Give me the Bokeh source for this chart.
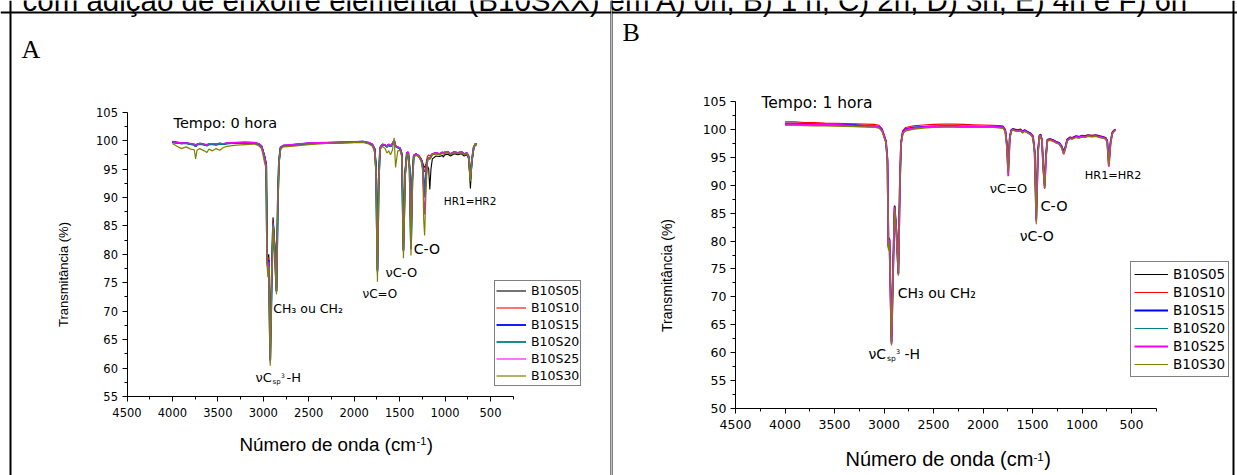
import math
from bokeh.plotting import figure
from bokeh.models import (Range1d, LinearAxis, FixedTicker, Label, Span,
                          Legend, LegendItem)
from bokeh.layouts import row
from bokeh.embed import file_html
from bokeh.resources import INLINE

# ---------------- data ----------------
NAMES = ["B10S05", "B10S10", "B10S15", "B10S20", "B10S25", "B10S30"]
COLORS = ["#000000", "#ff0000", "#0000ff", "#008080", "#ff00ff", "#808000"]

X_TICKS = [4500, 4000, 3500, 3000, 2500, 2000, 1500, 1000, 500]
X_MINOR = [4250, 3750, 3250, 2750, 2250, 1750, 1250, 750, 250]
Y_TICKS_A = [55, 60, 65, 70, 75, 80, 85, 90, 95, 100, 105]
Y_MINOR_A = [57.5, 62.5, 67.5, 72.5, 77.5, 82.5, 87.5, 92.5, 97.5, 102.5]
Y_TICKS_B = [50, 55, 60, 65, 70, 75, 80, 85, 90, 95, 100, 105]
Y_MINOR_B = [52.5, 57.5, 62.5, 67.5, 72.5, 77.5, 82.5, 87.5, 92.5, 97.5, 102.5]

# Panel A: Tempo 0 hora
WN_A = [4000, 3950, 3900, 3850, 3800, 3760, 3745, 3730, 3700, 3650,
        3620, 3600, 3560, 3520, 3480, 3440, 3400, 3300, 3200, 3100,
        3050, 3020, 3005, 2985, 2968, 2958, 2950, 2940, 2924, 2908,
        2893, 2875, 2855, 2840, 2828, 2810, 2780, 2700, 2500, 2300,
        2100, 1900, 1840, 1800, 1775, 1760, 1744, 1730, 1715, 1690,
        1660, 1640, 1620, 1600, 1580, 1560, 1545, 1520, 1495, 1475,
        1458, 1440, 1420, 1405, 1390, 1375, 1360, 1345, 1320, 1290,
        1260, 1245, 1235, 1225, 1212, 1195, 1180, 1168, 1155, 1140,
        1100, 1060, 1030, 1018, 1005, 970, 940, 900, 860, 820,
        790, 760, 740, 721, 705, 685, 666, 650]

A_B10S05 = [99.7, 99.6, 99.5, 99.6, 99.4, 99.3, 99.1, 99.3, 99.5, 99.3,
            99.2, 99.4, 99.4, 99.3, 99.5, 99.4, 99.5, 99.6, 99.6, 99.6,
            99.4, 99.1, 98.4, 97.3, 96.0, 80.5, 79.0, 80.0, 62.5, 76.0,
            86.5, 82.0, 74.0, 90.0, 96.5, 98.8, 99.1, 99.2, 99.5, 99.6,
            99.7, 99.8, 99.6, 99.3, 98.7, 96.0, 80.0, 94.0, 98.8, 99.3,
            99.3, 99.0, 99.4, 99.1, 99.4, 99.9, 99.1, 98.9, 98.7, 97.8,
            82.0, 94.5, 97.9, 98.0, 95.5, 82.0, 93.5, 97.4, 97.7, 97.2,
            96.6, 96.0, 95.5, 95.3, 95.8, 95.6, 95.0, 91.4, 95.0, 96.8,
            97.3, 97.2, 97.4, 97.1, 97.5, 97.6, 97.3, 97.7, 97.5, 97.7,
            97.3, 97.5, 96.8, 91.6, 96.2, 98.6, 99.4, 99.3]
A_B10S10 = [99.7, 99.6, 99.5, 99.5, 99.4, 99.3, 99.1, 99.3, 99.4, 99.3,
            99.2, 99.4, 99.4, 99.3, 99.4, 99.4, 99.5, 99.6, 99.6, 99.6,
            99.4, 99.0, 98.3, 97.1, 95.8, 79.5, 78.5, 79.5, 62.0, 75.5,
            85.8, 81.5, 73.8, 90.0, 96.5, 98.8, 99.1, 99.2, 99.5, 99.6,
            99.7, 99.8, 99.6, 99.3, 98.6, 95.5, 78.8, 93.5, 98.8, 99.3,
            99.2, 99.0, 99.3, 99.0, 99.4, 99.9, 99.0, 98.8, 98.6, 97.6,
            81.0, 94.2, 97.9, 97.9, 95.2, 81.5, 93.3, 97.4, 97.7, 97.4,
            96.8, 96.0, 94.8, 94.5, 95.8, 97.2, 97.5, 97.3, 97.5, 97.7,
            97.9, 97.7, 97.9, 97.8, 97.9, 98.0, 97.6, 98.0, 97.8, 98.0,
            97.6, 97.8, 97.2, 93.5, 96.5, 98.8, 99.5, 99.3]
A_B10S15 = [99.8, 99.7, 99.5, 99.6, 99.4, 99.3, 99.0, 99.3, 99.5, 99.3,
            99.2, 99.4, 99.4, 99.3, 99.5, 99.4, 99.5, 99.6, 99.7, 99.6,
            99.4, 99.0, 98.2, 97.0, 95.6, 79.0, 78.0, 79.0, 61.5, 75.0,
            85.5, 81.0, 73.5, 89.5, 96.3, 98.8, 99.1, 99.2, 99.5, 99.6,
            99.7, 99.8, 99.6, 99.3, 98.5, 95.0, 77.3, 93.0, 98.7, 99.3,
            99.2, 98.9, 99.3, 99.0, 99.4, 100.0, 99.0, 98.8, 98.6, 97.5,
            80.8, 94.0, 97.8, 97.9, 95.0, 81.2, 93.0, 97.3, 97.6, 97.3,
            96.5, 95.5, 92.5, 90.5, 93.5, 96.6, 97.0, 96.8, 97.2, 97.6,
            97.8, 97.6, 97.9, 97.8, 97.9, 98.0, 97.6, 98.0, 97.8, 98.0,
            97.6, 97.8, 97.2, 93.5, 96.5, 98.8, 99.4, 99.3]
A_B10S20 = [99.7, 99.6, 99.5, 99.5, 99.4, 99.3, 99.0, 99.3, 99.4, 99.3,
            99.1, 99.3, 99.4, 99.3, 99.4, 99.4, 99.5, 99.6, 99.6, 99.6,
            99.4, 99.0, 98.2, 97.0, 95.6, 78.8, 77.8, 78.8, 61.3, 75.0,
            85.5, 81.0, 73.5, 89.5, 96.3, 98.8, 99.1, 99.2, 99.5, 99.6,
            99.7, 99.8, 99.6, 99.3, 98.5, 95.0, 77.0, 93.0, 98.7, 99.3,
            99.2, 98.9, 99.3, 99.0, 99.4, 100.0, 99.0, 98.8, 98.6, 97.5,
            80.6, 94.0, 97.8, 97.9, 95.0, 81.0, 93.0, 97.3, 97.6, 97.3,
            96.5, 95.3, 92.0, 90.0, 93.3, 96.6, 97.0, 96.8, 97.2, 97.6,
            97.8, 97.6, 97.9, 97.8, 97.9, 98.0, 97.6, 98.0, 97.8, 98.0,
            97.6, 97.8, 97.2, 93.3, 96.5, 98.8, 99.4, 99.3]
A_B10S25 = [99.8, 99.7, 99.6, 99.6, 99.5, 99.4, 99.2, 99.4, 99.5, 99.4,
            99.3, 99.5, 99.5, 99.4, 99.5, 99.5, 99.6, 99.7, 99.7, 99.7,
            99.5, 99.1, 98.3, 97.0, 95.5, 78.5, 77.5, 78.5, 61.0, 74.8,
            85.2, 80.8, 73.3, 89.3, 96.2, 98.8, 99.2, 99.3, 99.6, 99.7,
            99.8, 99.9, 99.7, 99.4, 98.5, 94.8, 76.4, 92.8, 98.7, 99.4,
            99.3, 99.0, 99.4, 99.1, 99.5, 100.1, 99.1, 98.9, 98.7, 97.5,
            80.4, 94.0, 97.9, 98.0, 95.0, 80.8, 93.0, 97.4, 97.7, 97.4,
            96.5, 95.0, 90.0, 87.0, 92.0, 96.5, 97.1, 96.9, 97.3, 97.7,
            97.9, 97.7, 98.0, 97.9, 98.0, 98.1, 97.7, 98.1, 97.9, 98.1,
            97.7, 97.9, 97.3, 93.2, 96.6, 98.9, 99.5, 99.4]
A_B10S30 = [99.5, 99.0, 98.6, 98.9, 98.5, 98.4, 96.8, 98.3, 98.6, 98.2,
            97.9, 98.5, 98.2, 98.6, 98.3, 98.8, 99.0, 99.2, 99.3, 99.4,
            99.1, 98.6, 97.6, 96.0, 95.0, 78.0, 76.0, 78.0, 60.4, 74.5,
            85.0, 80.5, 73.0, 89.0, 96.0, 98.5, 98.9, 99.0, 99.3, 99.5,
            99.6, 99.7, 99.4, 99.0, 98.0, 94.5, 75.2, 92.5, 98.4, 99.0,
            98.6, 97.8, 98.2, 97.5, 98.3, 100.5, 95.3, 98.2, 98.3, 97.0,
            79.3, 93.5, 97.5, 97.6, 94.5, 79.8, 92.5, 97.0, 97.4, 97.2,
            96.3, 94.5, 86.0, 83.3, 90.0, 96.3, 97.0, 96.8, 97.2, 97.5,
            97.7, 97.5, 97.8, 97.6, 97.8, 97.9, 97.5, 97.9, 97.7, 97.9,
            97.5, 97.7, 97.0, 92.8, 96.3, 98.6, 99.4, 99.2]

# Panel B: Tempo 1 hora
WN_B = [4000, 3900, 3800, 3700, 3600, 3500, 3400, 3300, 3200, 3100,
        3050, 3020, 3000, 2980, 2965, 2955, 2945, 2924, 2908, 2893,
        2875, 2855, 2840, 2828, 2810, 2780, 2700, 2600, 2500, 2400,
        2300, 2200, 2100, 2000, 1900, 1800, 1775, 1760, 1745, 1730,
        1715, 1700, 1680, 1650, 1620, 1600, 1580, 1550, 1520, 1495,
        1478, 1462, 1445, 1430, 1418, 1405, 1390, 1377, 1365, 1350,
        1320, 1290, 1260, 1230, 1205, 1185, 1170, 1150, 1120, 1100,
        1060, 1030, 1000, 970, 940, 900, 860, 820, 790, 760,
        745, 729, 712, 695, 680, 660]

B_B10S05 = [100.8, 100.8, 100.8, 100.75, 100.7, 100.7, 100.6, 100.55, 100.5, 100.45,
            100.3, 99.8, 98.8, 97.8, 94.5, 79.0, 80.5, 62.0, 75.0, 86.3,
            82.0, 74.3, 90.0, 97.5, 99.4, 99.9, 100.2, 100.35, 100.45, 100.5,
            100.5, 100.45, 100.4, 100.4, 100.4, 100.3, 99.8, 97.5, 92.5, 98.5,
            99.7, 99.9, 99.8, 99.7, 99.8, 99.4, 99.7, 99.4, 99.1, 98.6,
            96.0, 84.0, 96.0, 98.7, 98.9, 98.0, 93.0, 89.8, 95.0, 98.0,
            98.1, 97.9, 97.6, 97.4, 96.8, 95.9, 96.5, 98.0, 98.4, 98.3,
            98.6, 98.5, 98.7, 98.6, 98.8, 98.7, 98.8, 98.6, 98.5, 98.3,
            97.8, 93.8, 97.5, 99.2, 99.6, 99.9]
B_B10S10 = [101.3, 101.3, 101.2, 101.2, 101.1, 101.05, 101.0, 100.95, 100.9, 100.85,
            100.7, 100.1, 99.0, 97.9, 94.6, 79.2, 80.6, 62.2, 75.2, 86.4,
            82.1, 74.4, 90.3, 97.8, 99.8, 100.3, 100.6, 100.75, 100.85, 100.9,
            100.9, 100.85, 100.8, 100.75, 100.7, 100.6, 100.0, 97.6, 92.6, 98.7,
            99.9, 100.1, 100.0, 99.9, 100.0, 99.6, 99.9, 99.6, 99.3, 98.8,
            96.2, 84.3, 96.2, 98.9, 99.1, 98.2, 93.2, 90.0, 95.2, 98.2,
            98.3, 98.1, 97.8, 97.6, 97.0, 96.1, 96.7, 98.2, 98.6, 98.5,
            98.8, 98.7, 98.9, 98.8, 99.0, 98.9, 99.0, 98.8, 98.7, 98.5,
            98.0, 94.0, 97.7, 99.4, 99.8, 100.0]
B_B10S15 = [101.0, 101.0, 100.95, 100.9, 100.85, 100.8, 100.75, 100.7, 100.6, 100.55,
            100.4, 99.9, 98.9, 97.8, 94.5, 79.0, 80.4, 61.9, 74.9, 86.2,
            81.9, 74.2, 90.0, 97.5, 99.5, 100.0, 100.3, 100.4, 100.5, 100.55,
            100.55, 100.5, 100.5, 100.45, 100.45, 100.35, 99.8, 97.5, 92.4, 98.5,
            99.8, 100.0, 99.9, 99.8, 99.9, 99.5, 99.8, 99.5, 99.2, 98.7,
            96.0, 84.0, 96.0, 98.8, 99.0, 98.1, 93.0, 89.8, 95.0, 98.1,
            98.2, 98.0, 97.7, 97.5, 96.9, 96.0, 96.6, 98.1, 98.5, 98.4,
            98.7, 98.6, 98.8, 98.7, 98.9, 98.8, 98.9, 98.7, 98.6, 98.4,
            97.9, 93.8, 97.6, 99.3, 99.7, 99.9]
B_B10S20 = [100.8, 100.8, 100.75, 100.7, 100.7, 100.65, 100.6, 100.5, 100.45, 100.4,
            100.25, 99.7, 98.7, 97.7, 94.4, 78.9, 80.3, 61.8, 74.8, 86.1,
            81.8, 74.1, 89.8, 97.4, 99.3, 99.8, 100.1, 100.3, 100.4, 100.45,
            100.45, 100.4, 100.35, 100.35, 100.35, 100.25, 99.7, 97.4, 92.3, 98.4,
            99.7, 99.9, 99.8, 99.7, 99.8, 99.4, 99.7, 99.4, 99.1, 98.6,
            95.8, 83.7, 95.8, 98.7, 98.9, 98.0, 92.8, 89.6, 94.8, 98.0,
            98.1, 97.9, 97.6, 97.4, 96.8, 95.8, 96.5, 98.0, 98.4, 98.3,
            98.6, 98.5, 98.7, 98.6, 98.8, 98.7, 98.8, 98.6, 98.5, 98.3,
            97.8, 93.6, 97.5, 99.2, 99.6, 99.9]
B_B10S25 = [100.9, 100.9, 100.85, 100.8, 100.8, 100.75, 100.7, 100.6, 100.55, 100.5,
            100.35, 99.8, 98.8, 97.7, 94.3, 78.7, 80.2, 61.6, 74.6, 86.0,
            81.7, 74.0, 89.7, 97.4, 99.4, 99.9, 100.2, 100.35, 100.45, 100.5,
            100.5, 100.45, 100.4, 100.4, 100.4, 100.3, 99.7, 97.2, 91.6, 98.3,
            99.7, 99.9, 99.8, 99.7, 99.8, 99.4, 99.7, 99.4, 99.1, 98.6,
            95.7, 83.5, 95.7, 98.7, 98.9, 98.0, 92.7, 89.5, 94.7, 98.0,
            98.1, 97.9, 97.6, 97.4, 96.7, 95.5, 96.4, 98.0, 98.4, 98.3,
            98.6, 98.5, 98.7, 98.6, 98.8, 98.7, 98.8, 98.6, 98.5, 98.3,
            97.7, 93.3, 97.4, 99.2, 99.6, 99.9]
B_B10S30 = [100.7, 100.7, 100.65, 100.6, 100.6, 100.55, 100.5, 100.45, 100.4, 100.35,
            100.2, 99.6, 98.6, 97.5, 94.0, 78.3, 79.8, 61.3, 74.3, 85.8,
            81.5, 73.8, 89.5, 97.2, 99.2, 99.7, 100.0, 100.2, 100.3, 100.35,
            100.35, 100.3, 100.3, 100.3, 100.3, 100.2, 99.6, 97.2, 92.2, 98.3,
            99.6, 99.8, 99.7, 99.6, 99.7, 99.3, 99.6, 99.3, 99.0, 98.4,
            95.5, 83.0, 95.5, 98.6, 98.8, 97.9, 92.5, 89.3, 94.6, 97.9,
            98.0, 97.8, 97.5, 97.3, 96.6, 95.6, 96.4, 97.9, 98.3, 98.2,
            98.5, 98.4, 98.6, 98.5, 98.7, 98.6, 98.7, 98.5, 98.4, 98.2,
            97.6, 93.5, 97.4, 99.1, 99.5, 99.8]

SERIES_A = [A_B10S05, A_B10S10, A_B10S15, A_B10S20, A_B10S25, A_B10S30]
SERIES_B = [B_B10S05, B_B10S10, B_B10S15, B_B10S20, B_B10S25, B_B10S30]

TOP_TEXT_1 = "com adição de enxofre elementar (B10SXX)"
TOP_TEXT_2 = "em A) 0h, B) 1 h, C) 2h, D) 3h, E) 4h e F) 6h"

# ---------------- layout ----------------
H = 475          # canvas height (the page template has no body margin)
TOP = 0
SANS = "DejaVu Sans"
ARIAL = "Liberation Sans"
WIDTHS_A = [1.1, 1.1, 1.8, 1.8, 1.1, 1.2]
WIDTHS_B = [1.1, 1.1, 1.8, 1.1, 1.8, 1.2]


def build(gx0, gw, x4500, x500, y105, ylo_px, ylo, wn, series, yt, ym,
          tick_size, leg, widths):
    sx = (x500 - x4500) / 4000.0
    sy = (ylo_px - y105) / (105.0 - ylo)

    def dx(g):
        return 4500 - (g - x4500) / sx

    def dy(g):
        return 105 - (g - y105) / sy

    p = figure(width=gw, height=H, title=None,
               x_range=Range1d(dx(gx0), dx(gx0 + gw)),
               y_range=Range1d(dy(TOP + H), dy(TOP)),
               x_axis_type=None, y_axis_type=None,
               output_backend="svg", toolbar_location=None, min_border=0)
    p.outline_line_color = None
    p.background_fill_color = "white"
    p.border_fill_color = "white"

    for ax, loc, fixed, bnds, ticks, minor, stand in (
            (LinearAxis(), "below", ylo, (250, 4500), X_TICKS, X_MINOR, 6),
            (LinearAxis(), "left", 4500, (ylo, 105), yt, ym, 4)):
        ax.fixed_location = fixed
        ax.bounds = bnds
        ax.ticker = FixedTicker(ticks=ticks, minor_ticks=minor)
        ax.axis_line_color = "black"
        ax.axis_line_width = 1
        ax.major_tick_in = 0
        ax.major_tick_out = 5
        ax.minor_tick_in = 0
        ax.minor_tick_out = 3
        ax.major_tick_line_color = "black"
        ax.minor_tick_line_color = "black"
        ax.major_label_text_font = SANS
        ax.major_label_text_font_size = tick_size
        ax.major_label_text_color = "black"
        ax.major_label_standoff = stand
        p.add_layout(ax, loc)

    rends = []
    for vals, col, lw in zip(series, COLORS, widths):
        rends.append(p.line(wn, vals, line_color=col, line_width=lw))

    legend = Legend(items=[LegendItem(label=n, renderers=[r])
                           for n, r in zip(NAMES, rends)],
                    location=(leg["x"] - gx0, TOP + H - leg["bottom"]),
                    margin=0, padding=leg["pad"], spacing=0,
                    glyph_width=leg["gw"], glyph_height=leg["lh"],
                    label_height=leg["lh"], label_standoff=5,
                    label_text_font=SANS, label_text_font_size=leg["fs"],
                    label_text_color="black",
                    border_line_color="black", border_line_width=1,
                    background_fill_color="white", background_fill_alpha=1)
    p.add_layout(legend)
    return p, dx, dy


def lab(p, dx, dy, gx, gy, text, size, font=SANS, align="left", angle=0.0):
    p.add_layout(Label(x=dx(gx), y=dy(gy), text=text, text_font=font,
                       text_font_size=size, text_align=align,
                       text_baseline="middle", angle=angle,
                       text_color="black"))


def border(p, dx, dy, gx=None, gy=None, w=2):
    if gx is not None:
        p.add_layout(Span(location=dx(gx), dimension="height",
                          line_color="black", line_width=w))
    if gy is not None:
        p.add_layout(Span(location=dy(gy), dimension="width",
                          line_color="black", line_width=w))


# ---- Panel A ----
pA, dxA, dyA = build(0, 611, 126.5, 490.0, 111.7, 396.0, 55, WN_A, SERIES_A,
                     Y_TICKS_A, Y_MINOR_A, "11.5px",
                     dict(x=494, bottom=385.5, pad=1, gw=30, lh=17, fs="12.5px"),
                     WIDTHS_A)
border(pA, dxA, dyA, gx=10, w=2)
border(pA, dxA, dyA, gx=610.5, w=1)
border(pA, dxA, dyA, gy=12, w=2)
lab(pA, dxA, dyA, 22, 0, TOP_TEXT_1, "29.5px", font=ARIAL)
lab(pA, dxA, dyA, 21, 49, "A", "26px", font="Liberation Serif")
lab(pA, dxA, dyA, 173, 122, "Tempo: 0 hora", "14.5px")
lab(pA, dxA, dyA, 272.7, 308, "CH₃ ou CH₂", "12.5px")
lab(pA, dxA, dyA, 255, 376.7, "νC", "13px")
lab(pA, dxA, dyA, 272, 381, "sp", "7px")
lab(pA, dxA, dyA, 280.5, 374.5, "3", "6px")
lab(pA, dxA, dyA, 286, 376.7, "-H", "13px")
lab(pA, dxA, dyA, 362, 293.3, "νC=O", "12px")
lab(pA, dxA, dyA, 385, 271.7, "νC-O", "13px")
lab(pA, dxA, dyA, 413.3, 248.3, "C-O", "14px")
lab(pA, dxA, dyA, 443.3, 200, "HR1=HR2", "10.5px")
lab(pA, dxA, dyA, 63, 274, "Transmitância (%)", "13px", font=ARIAL,
    align="center", angle=math.pi / 2)
lab(pA, dxA, dyA, 239, 443.5, "Número de onda (cm", "18.8px", font=ARIAL)
lab(pA, dxA, dyA, 416, 440.5, "-1", "11px", font=ARIAL)
lab(pA, dxA, dyA, 426.3, 443.5, ")", "18.8px", font=ARIAL)

# ---- Panel B ----
pB, dxB, dyB = build(611, 626, 735.0, 1131.0, 100.7, 408.3, 50, WN_B, SERIES_B,
                     Y_TICKS_B, Y_MINOR_B, "12.5px",
                     dict(x=1130, bottom=376.5, pad=3, gw=34, lh=18, fs="13.5px"),
                     WIDTHS_B)
border(pB, dxB, dyB, gx=611.5, w=1)
border(pB, dxB, dyB, gx=1233, w=2)
border(pB, dxB, dyB, gy=12, w=2)
lab(pB, dxB, dyB, 608, 0, TOP_TEXT_2, "29.5px", font=ARIAL)
lab(pB, dxB, dyB, 622, 32, "B", "26px", font="Liberation Serif")
lab(pB, dxB, dyB, 761, 102.7, "Tempo: 1 hora", "15.5px")
lab(pB, dxB, dyB, 897.3, 292.3, "CH₃ ou CH₂", "14px")
lab(pB, dxB, dyB, 868, 353.3, "νC", "14px")
lab(pB, dxB, dyB, 886.5, 358, "sp", "7.5px")
lab(pB, dxB, dyB, 895.5, 350.5, "3", "6.5px")
lab(pB, dxB, dyB, 904, 353.3, "-H", "14px")
lab(pB, dxB, dyB, 989.3, 188.3, "νC=O", "13px")
lab(pB, dxB, dyB, 1040, 205, "C-O", "14.5px")
lab(pB, dxB, dyB, 1019.3, 235.7, "νC-O", "14px")
lab(pB, dxB, dyB, 1084.3, 175, "HR1=HR2", "11.3px")
lab(pB, dxB, dyB, 666, 275, "Transmitância (%)", "14px", font=ARIAL,
    align="center", angle=math.pi / 2)
lab(pB, dxB, dyB, 845, 458.7, "Número de onda (cm", "20px", font=ARIAL)
lab(pB, dxB, dyB, 1033, 456, "-1", "11.5px", font=ARIAL)
lab(pB, dxB, dyB, 1043.7, 458.7, ")", "20px", font=ARIAL)

layout = row(pA, pB)
open("out.html", "w").write(file_html(layout, INLINE))
